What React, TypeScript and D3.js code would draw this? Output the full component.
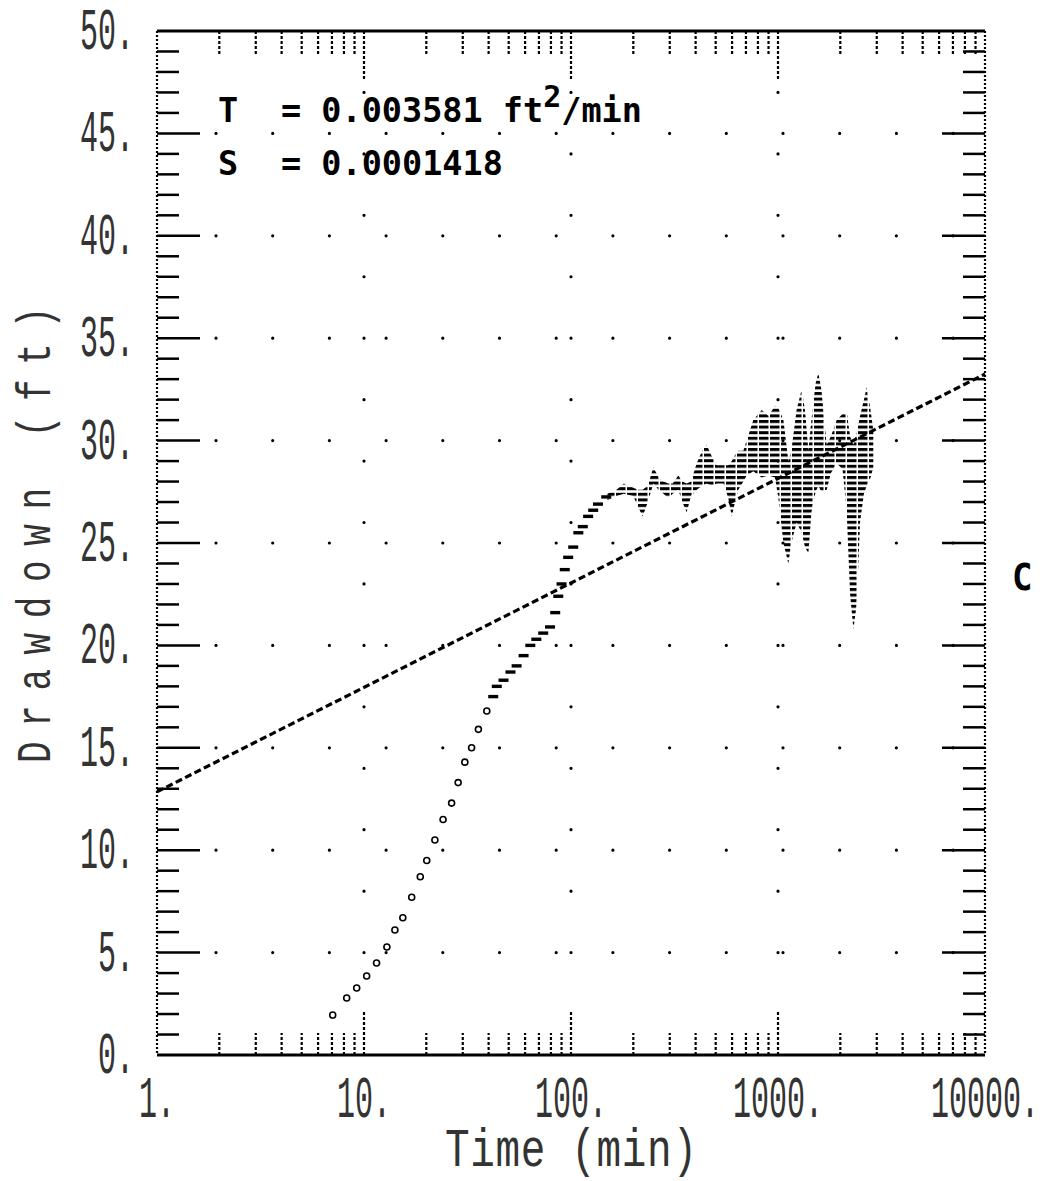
import React from 'react';
import * as d3 from 'd3';

const W = 1055;
const H = 1181;

// axis ticks
const yTickValues = [0, 5, 10, 15, 20, 25, 30, 35, 40, 45, 50];
const yTickLabels = ['0.', '5.', '10.', '15.', '20.', '25.', '30.', '35.', '40.', '45.', '50.'];
const xTickValues = [1, 10, 100, 1000, 10000];
const xTickLabels = ['1.', '10.', '100.', '1000.', '10000.'];

// observed drawdown, early (resolved) part
const obsTime = [7.06, 8.25, 9.22, 10.3, 11.5, 12.9, 14.1, 15.4, 17.0, 18.7, 20.1, 22.0, 24.1, 26.5, 28.5, 30.7, 33.1, 35.7, 39.2, 42.1, 43.8, 47.2, 51, 54.6, 59, 63.6, 68, 73.4, 79.2, 83.9, 86.8, 90, 93.3, 96.9, 102.5, 108.5, 114, 121, 128, 135, 148];
const obsDrawdown = [1.95, 2.78, 3.27, 3.86, 4.49, 5.27, 6.1, 6.7, 7.7, 8.7, 9.5, 10.5, 11.5, 12.3, 13.3, 14.3, 15.0, 15.9, 16.8, 17.5, 18.0, 18.3, 18.7, 19.0, 19.5, 20.0, 20.3, 20.6, 20.9, 21.6, 22.4, 23.0, 23.7, 24.3, 24.8, 25.5, 25.8, 26.3, 26.6, 26.9, 27.25];

// observed drawdown, late (oscillating) part: envelope of the dense points
const bandTime = [150, 166, 180, 200, 210, 222, 235, 250, 265, 280, 295, 310, 330, 345, 362, 380, 405, 430, 452, 480, 506, 545, 575, 598, 620, 643, 680, 706, 760, 834, 900, 967, 1004, 1062, 1122, 1160, 1230, 1301, 1350, 1402, 1450, 1520, 1567, 1620, 1719, 1800, 1922, 2050, 2148, 2230, 2313, 2400, 2491, 2600, 2684, 2800, 2886];
const bandUpper = [27.4, 27.6, 27.9, 27.7, 27.6, 27.6, 27.8, 28.7, 28.2, 28.0, 27.9, 27.9, 28.3, 28.0, 27.9, 28.0, 28.9, 29.5, 29.8, 29.2, 28.8, 28.8, 28.8, 29.0, 29.3, 29.5, 29.5, 30.0, 31.0, 31.5, 31.2, 31.7, 31.6, 31.0, 29.0, 29.5, 31.5, 32.5, 31.5, 29.5, 31.0, 32.8, 33.3, 32.5, 29.8, 30.2, 31.0, 31.3, 31.4, 30.2, 29.8, 30.4, 31.2, 32.0, 32.6, 31.5, 30.5];
const bandLower = [27.1, 27.3, 27.4, 27.3, 26.8, 26.3, 27.0, 27.9, 27.6, 27.4, 27.2, 27.4, 27.6, 27.0, 26.5, 27.3, 27.6, 27.8, 27.9, 27.8, 27.9, 27.9, 27.2, 26.3, 27.0, 27.6, 28.0, 28.3, 28.5, 28.2, 28.3, 28.2, 27.2, 25.0, 24.0, 25.0, 26.0, 25.5, 24.8, 24.5, 26.5, 27.5, 27.8, 27.5, 27.6, 28.4, 28.9, 28.6, 26.5, 22.5, 20.8, 22.0, 26.0, 27.4, 27.8, 28.2, 28.7];

// straight-line (Cooper-Jacob) fit
const fitTime = [1, 10000];
const fitDrawdown = [12.85, 33.25];

const paramNames = ['T', 'S'];
const paramValues = ['0.003581', '0.0001418'];

const L = 157, R = 985, T = 31, B = 1055;

export default function App() {
  const x = d3.scaleLog().domain([1, 10000]).range([L, R]);
  const y = d3.scaleLinear().domain([0, 50]).range([B, T]);

  const obs = obsTime.map((t, i) => ({ t, s: obsDrawdown[i] }));
  const band = bandTime.map((t, i) => ({ t, hi: bandUpper[i], lo: bandLower[i] }));
  const fit = fitTime.map((t, i) => ({ t, s: fitDrawdown[i] }));

  const area = d3.area<any>().x(d => x(d.t)).y0(d => y(d.lo)).y1(d => y(d.hi)).curve(d3.curveLinear);
  const line = d3.line<any>().x(d => x(d.t)).y(d => y(d.s));

  const xMinor = x.ticks().filter(t => t > 1 && t < 10000);
  const yMinor = d3.range(1, 50);

  const monoFont = '"Liberation Mono", "DejaVu Sans Mono", monospace';
  const boldFont = '"DejaVu Sans Mono", "Liberation Mono", monospace';

  const rowGrid = [5, 10, 15, 20, 25, 30, 35, 40, 45];
  const colGrid = [10, 100, 1000];

  return (
    <svg width={W} height={H} style={{ position: 'absolute', left: 0, top: 0, background: '#fff' }}>
      <defs>
        <pattern id="hatch" patternUnits="userSpaceOnUse" width="11" height="5.6">
          <rect x="0" y="0" width="9.5" height="3" fill="#000" />
        </pattern>
      </defs>
      <rect x={0} y={0} width={W} height={H} fill="#fff" />

      {/* dotted grid */}
      {rowGrid.map(s => (
        <line key={'r' + s} x1={216} x2={R} y1={y(s)} y2={y(s)} stroke="#000" strokeWidth={3.2}
          strokeLinecap="round" strokeDasharray="0 56.7" />
      ))}
      {colGrid.map(t => (
        <line key={'c' + t} x1={x(t)} x2={x(t)} y1={y(47)} y2={y(4.9)} stroke="#000" strokeWidth={3.2}
          strokeLinecap="round" strokeDasharray={`0 ${(y(0) - y(3)).toFixed(3)}`} />
      ))}

      {/* axes frame */}
      <line x1={L} x2={R} y1={T} y2={T} stroke="#000" strokeWidth={3} />
      <line x1={L} x2={R} y1={B} y2={B} stroke="#000" strokeWidth={3} />
      <line x1={L} x2={L} y1={T} y2={B} stroke="#000" strokeWidth={2.2} strokeDasharray="2 2" />
      <line x1={R} x2={R} y1={T} y2={B} stroke="#000" strokeWidth={2.2} strokeDasharray="2 2" />

      {/* y ticks left and right */}
      {yMinor.map(s => {
        const len = s % 5 === 0 ? 43 : 22;
        return (
          <g key={'yt' + s}>
            <line x1={L} x2={L + len} y1={y(s)} y2={y(s)} stroke="#000" strokeWidth={2.5} />
            <line x1={R - len} x2={R} y1={y(s)} y2={y(s)} stroke="#000" strokeWidth={2.5} />
          </g>
        );
      })}

      {/* x ticks top and bottom */}
      {xMinor.map(t => {
        const dec = Math.abs(Math.log10(t) - Math.round(Math.log10(t))) < 1e-9;
        const lenTop = dec ? 48 : 24;
        const lenBot = dec ? 45 : 22;
        return (
          <g key={'xt' + t}>
            <line x1={x(t)} x2={x(t)} y1={T} y2={T + lenTop} stroke="#000" strokeWidth={2.2} strokeDasharray="3 2" />
            <line x1={x(t)} x2={x(t)} y1={B} y2={B - lenBot} stroke="#000" strokeWidth={2.2} strokeDasharray="3 2" />
          </g>
        );
      })}

      {/* tick labels */}
      {yTickValues.map((v, i) => (
        <text key={'yl' + v} transform={`translate(134,${y(v) + 18}) scale(1,2.0)`} fontFamily={monoFont}
          fontSize={30} textAnchor="end" fill="#333">{yTickLabels[i]}</text>
      ))}
      {xTickValues.map((v, i) => (
        <text key={'xl' + v} transform={`translate(${x(v)},1117) scale(1,2.0)`} fontFamily={monoFont}
          fontSize={30} textAnchor="middle" fill="#333">{xTickLabels[i]}</text>
      ))}

      {/* axis titles */}
      <text transform="translate(571,1166) scale(1,1.3)" fontFamily={monoFont} fontSize={41} textAnchor="middle"
        fill="#333" textLength={252} lengthAdjust="spacing">Time (min)</text>
      <text transform="translate(50,535) rotate(-90) scale(1,1.35)" fontFamily={monoFont} fontSize={36}
        textAnchor="middle" fill="#333" textLength={456} lengthAdjust="spacing">Drawdown (ft)</text>

      {/* data: oscillating part */}
      <path d={area(band) || ''} fill="url(#hatch)" />

      {/* data: early points */}
      {obs.map((d, i) => d.t < 40 ? (
        <circle key={'o' + i} cx={x(d.t)} cy={y(d.s)} r={3} fill="none" stroke="#000" strokeWidth={1.6} />
      ) : (
        <rect key={'o' + i} x={x(d.t) - 5} y={y(d.s) - 1.7} width={10} height={3.4} fill="#000" />
      ))}

      {/* fitted straight line */}
      <path d={line(fit) || ''} fill="none" stroke="#000" strokeWidth={3.2} strokeDasharray="7 3.5" />

      {/* parameters */}
      {paramNames.map((n, i) => (
        <g key={'p' + n}>
          <text x={218} y={122 + i * 53} fontFamily={boldFont} fontWeight="bold"
            fontSize={33.5} fill="#000">{n}</text>
          <text x={281} y={122 + i * 53} fontFamily={boldFont} fontWeight="bold"
            fontSize={33.5} fill="#000">
            {'= ' + paramValues[i]}
            {i === 0 ? (
              <>
                <tspan>{' ft'}</tspan>
                <tspan dy={-15} fontSize={30}>2</tspan>
                <tspan dy={15}>/min</tspan>
              </>
            ) : null}
          </text>
        </g>
      ))}

      <text transform="translate(1012,590) scale(1,1.1)" fontFamily={boldFont} fontWeight="bold" fontSize={34}
        fill="#000">C</text>
    </svg>
  );
}
